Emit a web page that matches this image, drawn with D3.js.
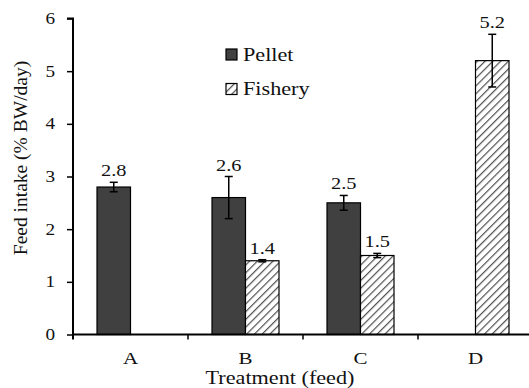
<!DOCTYPE html>
<html>
<head>
<meta charset="utf-8">
<script src="https://cdn.jsdelivr.net/npm/d3@7/dist/d3.min.js"></script>
<style>
  body { margin: 0; background: #fff; }
</style>
</head>
<body>
<div id="chart"></div>
<script>
// data
const treatments = ["A", "B", "C", "D"];
const seriesNames = ["Pellet", "Fishery"];
const pelletValues = [2.8, 2.6, 2.5, null];
const pelletErrors = [0.09, 0.4, 0.14, null];
const fisheryValues = [null, 1.4, 1.5, 5.2];
const fisheryErrors = [null, 0.02, 0.04, 0.5];
const yTicks = [0, 1, 2, 3, 4, 5, 6];

const FONT = "'Liberation Serif', 'Times New Roman', Times, serif";
const SX = 1.2; // the source figure's text is stretched horizontally
const width = 529, height = 388;
const margin = { top: 18.5, right: -4, bottom: 53.5, left: 73 };
const innerW = width - margin.left - margin.right;
const innerH = height - margin.top - margin.bottom;

const svg = d3.select("#chart").append("svg")
    .attr("width", width)
    .attr("height", height)
    .attr("font-family", FONT);

// hatch pattern for Fishery
const defs = svg.append("defs");
const pat = defs.append("pattern")
    .attr("id", "hatch")
    .attr("patternUnits", "userSpaceOnUse")
    .attr("width", 5.5)
    .attr("height", 5.5)
    .attr("patternTransform", "rotate(45)");
pat.append("rect").attr("width", 5.5).attr("height", 5.5).attr("fill", "#fff");
pat.append("line")
    .attr("x1", 0).attr("y1", 0).attr("x2", 0).attr("y2", 5.5)
    .attr("stroke", "#505050").attr("stroke-width", 2.4);

const g = svg.append("g")
    .attr("transform", `translate(${margin.left},${margin.top})`);

const x = d3.scaleBand().domain(treatments).range([0, innerW]).paddingInner(0).paddingOuter(0);
const x1 = d3.scaleBand().domain(seriesNames).range([x.bandwidth() / 2 - 33.5, x.bandwidth() / 2 + 33.5]);
const y = d3.scaleLinear().domain([0, 6]).range([innerH, 0]);

// y axis
const yAxis = g.append("g")
    .call(d3.axisLeft(y).tickValues(yTicks).tickSize(6).tickFormat(d3.format("d")));
yAxis.attr("font-family", FONT);
yAxis.select(".domain").attr("stroke", "#000").attr("stroke-width", 2)
    .attr("d", `M0,${innerH + 5}V0H-6`);
yAxis.selectAll(".tick line").attr("stroke", "#000").attr("stroke-width", 1.5);
yAxis.selectAll(".tick text")
    .attr("font-size", 16)
    .attr("x", 0)
    .attr("transform", `translate(-18,0) scale(${SX},1)`)
    .attr("fill", "#111");

// bars
const rows = treatments.map((t, i) => ({
    t,
    items: [
        { s: "Pellet", v: pelletValues[i], e: pelletErrors[i] },
        { s: "Fishery", v: fisheryValues[i], e: fisheryErrors[i] }
    ].filter(d => d.v !== null)
}));

const groups = g.selectAll(".grp").data(rows).join("g")
    .attr("class", "grp")
    .attr("transform", d => `translate(${x(d.t)},0)`);

groups.selectAll("rect").data(d => d.items).join("rect")
    .attr("x", d => x1(d.s))
    .attr("width", x1.bandwidth())
    .attr("y", d => y(d.v))
    .attr("height", d => innerH - y(d.v))
    .attr("fill", d => d.s === "Pellet" ? "#404040" : "url(#hatch)")
    .attr("stroke", "#000")
    .attr("stroke-width", 1.2);

// error bars
const err = groups.selectAll(".err").data(d => d.items).join("g").attr("class", "err");
err.append("line")
    .attr("x1", d => x1(d.s) + x1.bandwidth() / 2)
    .attr("x2", d => x1(d.s) + x1.bandwidth() / 2)
    .attr("y1", d => y(d.v + d.e))
    .attr("y2", d => y(d.v - d.e))
    .attr("stroke", "#000").attr("stroke-width", 1.5);
err.selectAll(".cap").data(d => [d.v + d.e, d.v - d.e].map(val => ({ s: d.s, val }))).join("line")
    .attr("class", "cap")
    .attr("x1", d => x1(d.s) + x1.bandwidth() / 2 - 4)
    .attr("x2", d => x1(d.s) + x1.bandwidth() / 2 + 4)
    .attr("y1", d => y(d.val))
    .attr("y2", d => y(d.val))
    .attr("stroke", "#000").attr("stroke-width", 1.5);

// value labels
groups.selectAll(".lbl").data(d => d.items).join("text")
    .attr("class", "lbl")
    .attr("transform", d => `translate(${x1(d.s) + x1.bandwidth() / 2},${y(d.v + d.e) - 6}) scale(${SX},1)`)
    .attr("text-anchor", "middle")
    .attr("font-size", 17)
    .attr("fill", "#111")
    .text(d => d3.format(".1f")(d.v));

// x axis
const xAxis = g.append("g").attr("transform", `translate(0,${innerH})`);
xAxis.append("line")
    .attr("x1", 0).attr("x2", innerW)
    .attr("stroke", "#000").attr("stroke-width", 2);
xAxis.selectAll(".sep").data(treatments.slice(1)).join("line")
    .attr("class", "sep")
    .attr("x1", d => x(d)).attr("x2", d => x(d))
    .attr("y1", 0).attr("y2", 5)
    .attr("stroke", "#000").attr("stroke-width", 1.5);
xAxis.selectAll(".cat").data(treatments).join("text")
    .attr("class", "cat")
    .attr("transform", d => `translate(${x(d) + x.bandwidth() / 2},29) scale(${SX},1)`)
    .attr("text-anchor", "middle")
    .attr("font-size", 17.5)
    .attr("fill", "#111")
    .text(d => d);

// axis titles
svg.append("text")
    .attr("transform", `translate(280,383.5) scale(${SX},1)`)
    .attr("text-anchor", "middle")
    .attr("font-size", 18.5)
    .attr("fill", "#111")
    .text("Treatment (feed)");
svg.append("text")
    .attr("transform", "translate(27,158) rotate(-90)")
    .attr("text-anchor", "middle")
    .attr("font-size", 19.5)
    .attr("fill", "#111")
    .text("Feed intake (% BW/day)");

// legend
const legend = svg.append("g").attr("transform", "translate(226,49)");
const li = legend.selectAll("g").data(seriesNames).join("g")
    .attr("transform", (d, i) => `translate(0,${i * 34.5})`);
li.append("rect")
    .attr("width", 11).attr("height", 11)
    .attr("fill", d => d === "Pellet" ? "#404040" : "url(#hatch)")
    .attr("stroke", "#000").attr("stroke-width", 1.2);
li.append("text")
    .attr("transform", `translate(17,11.7) scale(${SX},1)`)
    .attr("font-size", 18.5)
    .attr("fill", "#111")
    .text(d => d);
</script>
</body>
</html>
